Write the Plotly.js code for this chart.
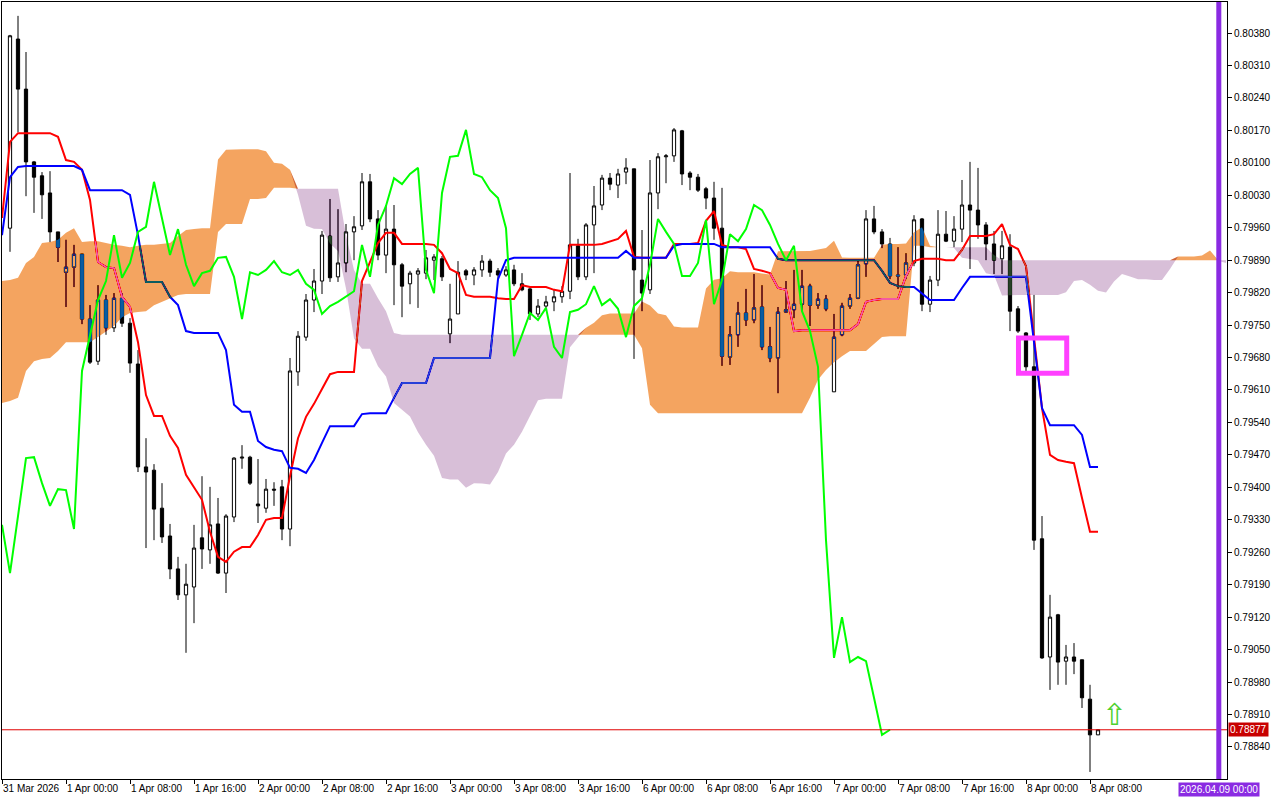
<!DOCTYPE html>
<html><head><meta charset="utf-8">
<script src="https://cdn.plot.ly/plotly-3.0.1.min.js"></script>
<style>html,body{margin:0;padding:0;background:#fff;overflow:hidden}#chart{width:1280px;height:800px}</style>
</head><body><div id="chart"></div>
<script>
// ---- hourly bars, 31 Mar 17:00 .. 8 Apr 09:00 ----
const open = [
0.79959,0.80367,0.80259,0.80102,0.80072,0.80035,0.79951,0.79864,0.79875,0.79903,
0.79763,0.79672,0.79804,0.79744,0.79808,0.79754,0.79666,0.79444,0.79437,0.79355,
0.79295,0.79224,0.79168,0.79185,0.79291,0.79265,0.79321,0.79215,0.79336,0.79463,
0.79465,0.79364,0.79355,0.79396,0.79401,0.79310,0.79649,0.79724,0.79804,0.79845,
0.79942,0.79854,0.79884,0.79951,0.79964,0.80059,0.79979,0.79901,0.79957,0.79880,
0.79839,0.79860,0.79862,0.79890,0.79893,0.79731,0.79774,0.79867,0.79858,0.79869,
0.79888,0.79867,0.79858,0.79869,0.79839,0.79828,0.79774,0.79791,0.79800,0.79811,
0.79823,0.79921,0.79854,0.79966,0.80009,0.80067,0.80052,0.80080,0.80087,0.79847,
0.79826,0.80035,0.80113,0.80115,0.80169,0.80078,0.80069,0.80044,0.80024,0.79959,
0.79681,0.79729,0.79776,0.79761,0.79789,0.79703,0.79679,0.79778,0.79783,0.79795,
0.79834,0.79793,0.79806,0.79606,0.79729,0.79791,0.79808,0.79882,0.79979,0.79951,
0.79925,0.79858,0.79858,0.79884,0.79979,0.79795,0.79847,0.79946,0.79931,0.79957,
0.80009,0.79998,0.79966,0.79925,0.79893,0.79918,0.79785,0.79733,0.79660,0.79289,
0.79034,0.79125,0.79025,0.79034,0.79028,0.78943,0.78866];
const high = [
0.80376,0.80417,0.80339,0.80104,0.80080,0.80082,0.79951,0.79934,0.79923,0.79903,
0.79793,0.79836,0.79815,0.79819,0.79819,0.79765,0.79696,0.79506,0.79450,0.79409,
0.79321,0.79250,0.79235,0.79319,0.79424,0.79401,0.79377,0.79342,0.79465,0.79491,
0.79468,0.79461,0.79418,0.79411,0.79416,0.79679,0.79737,0.79817,0.79871,0.79953,
0.80022,0.80000,0.79968,0.79985,0.80078,0.80076,0.79998,0.80009,0.80009,0.79884,
0.79867,0.79873,0.79912,0.79903,0.79899,0.79839,0.79888,0.79871,0.79875,0.79901,
0.79893,0.79873,0.79877,0.79880,0.79862,0.79834,0.79806,0.79813,0.79828,0.79834,
0.80078,0.79936,0.79970,0.80050,0.80074,0.80078,0.80087,0.80110,0.80087,0.79955,
0.80106,0.80121,0.80119,0.80175,0.80171,0.80082,0.80076,0.80048,0.80059,0.80046,
0.79748,0.79800,0.79828,0.79860,0.79836,0.79746,0.79789,0.79845,0.79869,0.79869,
0.79839,0.79819,0.79815,0.79774,0.79798,0.79817,0.79888,0.79998,0.80007,0.79957,
0.79938,0.79918,0.79905,0.79987,0.79981,0.79856,0.79998,0.79996,0.79985,0.80063,
0.80102,0.80089,0.79972,0.79953,0.79953,0.79946,0.79791,0.79735,0.79815,0.79338,
0.79168,0.79127,0.79060,0.79064,0.79028,0.78974,0.78877];
const low = [
0.79908,0.80166,0.80028,0.79992,0.79979,0.79929,0.79886,0.79789,0.79832,0.79752,
0.79666,0.79664,0.79729,0.79735,0.79746,0.79647,0.79433,0.79269,0.79286,0.79280,
0.79202,0.79157,0.79043,0.79107,0.79224,0.79235,0.79213,0.79172,0.79325,0.79440,
0.79405,0.79323,0.79345,0.79360,0.79286,0.79273,0.79619,0.79716,0.79778,0.79817,
0.79843,0.79843,0.79864,0.79890,0.79955,0.79972,0.79890,0.79862,0.79793,0.79767,
0.79795,0.79787,0.79849,0.79847,0.79845,0.79711,0.79774,0.79847,0.79836,0.79854,
0.79854,0.79849,0.79854,0.79834,0.79823,0.79761,0.79767,0.79785,0.79780,0.79798,
0.79806,0.79847,0.79847,0.79862,0.79998,0.80041,0.80024,0.80054,0.79677,0.79780,
0.79817,0.80000,0.80056,0.80102,0.80052,0.80041,0.80037,0.80000,0.79934,0.79662,
0.79664,0.79703,0.79748,0.79754,0.79696,0.79670,0.79603,0.79776,0.79765,0.79780,
0.79748,0.79785,0.79780,0.79606,0.79726,0.79785,0.79806,0.79854,0.79946,0.79916,
0.79849,0.79828,0.79849,0.79877,0.79780,0.79778,0.79834,0.79929,0.79918,0.79929,
0.79871,0.79936,0.79890,0.79860,0.79860,0.79737,0.79733,0.79649,0.79265,0.79030,
0.78963,0.78974,0.78974,0.78997,0.78924,0.78786,0.78866];
const close = [
0.80374,0.80259,0.80102,0.80069,0.80031,0.79951,0.79918,0.79875,0.79903,0.79763,
0.79670,0.79804,0.79744,0.79808,0.79754,0.79668,0.79444,0.79433,0.79353,0.79293,
0.79224,0.79168,0.79191,0.79269,0.79267,0.79319,0.79215,0.79338,0.79463,0.79465,
0.79409,0.79360,0.79396,0.79394,0.79310,0.79651,0.79726,0.79804,0.79845,0.79944,
0.79852,0.79884,0.79951,0.79962,0.80059,0.79979,0.79901,0.79957,0.79880,0.79834,
0.79862,0.79867,0.79895,0.79897,0.79854,0.79763,0.79864,0.79858,0.79869,0.79888,
0.79864,0.79858,0.79869,0.79839,0.79826,0.79774,0.79791,0.79800,0.79811,0.79823,
0.79923,0.79854,0.79966,0.80007,0.80067,0.80054,0.80076,0.80089,0.79869,0.79819,
0.80035,0.80113,0.80115,0.80171,0.80076,0.80069,0.80041,0.80024,0.79959,0.79683,
0.79729,0.79776,0.79761,0.79787,0.79703,0.79679,0.79778,0.79783,0.79795,0.79834,
0.79793,0.79806,0.79785,0.79724,0.79791,0.79808,0.79880,0.79979,0.79951,0.79925,
0.79856,0.79856,0.79884,0.79977,0.79795,0.79847,0.79946,0.79931,0.79957,0.80009,
0.79998,0.79966,0.79925,0.79890,0.79921,0.79780,0.79737,0.79660,0.79286,0.79032,
0.79120,0.79023,0.79034,0.79025,0.78946,0.78866,0.78877];

// ---- Ichimoku lines, bar -1 .. 136 ----
const tenkan = [0.79981,
0.80145,0.80164,0.80164,0.80164,0.80164,0.80164,0.80156,0.80106,0.80102,0.80085,
0.80020,0.79886,0.79875,0.79873,0.79811,0.79789,0.79713,0.79599,0.79554,0.79554,
0.79511,0.79485,0.79427,0.79401,0.79373,0.79304,0.79250,0.79239,0.79261,0.79271,
0.79271,0.79297,0.79330,0.79334,0.79334,0.79424,0.79506,0.79552,0.79580,0.79612,
0.79644,0.79649,0.79649,0.79649,0.79845,0.79886,0.79927,0.79949,0.79949,0.79925,
0.79925,0.79925,0.79925,0.79923,0.79905,0.79871,0.79862,0.79815,0.79811,0.79811,
0.79811,0.79808,0.79806,0.79806,0.79836,0.79832,0.79832,0.79832,0.79826,0.79823,
0.79923,0.79923,0.79923,0.79923,0.79925,0.79931,0.79936,0.79953,0.79897,0.79895,
0.79895,0.79895,0.79895,0.79925,0.79925,0.79925,0.79927,0.79975,0.79996,0.79923,
0.79918,0.79918,0.79914,0.79871,0.79867,0.79862,0.79830,0.79826,0.79737,0.79739,
0.79739,0.79739,0.79739,0.79739,0.79739,0.79739,0.79752,0.79800,0.79804,0.79806,
0.79806,0.79806,0.79856,0.79888,0.79893,0.79893,0.79893,0.79890,0.79890,0.79912,
0.79942,0.79942,0.79942,0.79946,0.79968,0.79923,0.79914,0.79877,0.79722,0.79571,
0.79470,0.79459,0.79455,0.79452,0.79377,0.79304,0.79304];
const kijun = [0.79944,
0.80069,0.80091,0.80093,0.80093,0.80093,0.80093,0.80093,0.80093,0.80093,0.80085,
0.80041,0.80041,0.80041,0.80041,0.80041,0.80031,0.79944,0.79843,0.79843,0.79843,
0.79811,0.79793,0.79737,0.79733,0.79733,0.79733,0.79733,0.79696,0.79578,0.79563,
0.79563,0.79500,0.79487,0.79481,0.79478,0.79442,0.79440,0.79431,0.79459,0.79496,
0.79532,0.79532,0.79532,0.79532,0.79558,0.79560,0.79560,0.79560,0.79593,0.79625,
0.79625,0.79625,0.79625,0.79679,0.79679,0.79679,0.79679,0.79679,0.79679,0.79679,
0.79679,0.79849,0.79890,0.79895,0.79895,0.79895,0.79895,0.79895,0.79895,0.79895,
0.79895,0.79895,0.79895,0.79895,0.79895,0.79895,0.79895,0.79910,0.79895,0.79895,
0.79895,0.79895,0.79895,0.79921,0.79925,0.79925,0.79925,0.79925,0.79925,0.79918,
0.79918,0.79918,0.79918,0.79918,0.79918,0.79918,0.79893,0.79890,0.79890,0.79890,
0.79890,0.79890,0.79890,0.79890,0.79890,0.79890,0.79890,0.79890,0.79890,0.79867,
0.79841,0.79834,0.79832,0.79832,0.79817,0.79804,0.79804,0.79804,0.79804,0.79830,
0.79854,0.79854,0.79854,0.79854,0.79854,0.79854,0.79854,0.79854,0.79713,0.79571,
0.79534,0.79534,0.79534,0.79534,0.79513,0.79444,0.79444];

// ---- Senkou spans (already shifted forward), bar -1 .. 152 ----
const senkouA = [0.79845,
0.79847,0.79852,0.79884,0.79897,0.79927,0.79929,0.79934,0.79949,0.79959,0.79929,
0.79931,0.79931,0.79927,0.79923,0.79921,0.79918,0.79921,0.79923,0.79923,0.79925,
0.79927,0.79942,0.79955,0.79957,0.79959,0.79959,0.80107,0.80128,0.80129,0.80129,
0.80129,0.80129,0.80125,0.80100,0.80098,0.80085,0.80031,0.79964,0.79958,0.79957,
0.79926,0.79910,0.79829,0.79721,0.79699,0.79699,0.79661,0.79639,0.79582,0.79567,
0.79553,0.79519,0.79492,0.79468,0.79420,0.79417,0.79417,0.79399,0.79409,0.79408,
0.79406,0.79433,0.79473,0.79492,0.79520,0.79554,0.79588,0.79591,0.79591,0.79591,
0.79702,0.79723,0.79744,0.79755,0.79771,0.79775,0.79775,0.79775,0.79775,0.79801,
0.79792,0.79775,0.79771,0.79747,0.79745,0.79745,0.79745,0.79829,0.79848,0.79851,
0.79866,0.79864,0.79864,0.79864,0.79861,0.79859,0.79909,0.79909,0.79909,0.79909,
0.79910,0.79913,0.79916,0.79932,0.79896,0.79895,0.79895,0.79895,0.79895,0.79923,
0.79925,0.79925,0.79926,0.79950,0.79961,0.79921,0.79918,0.79918,0.79916,0.79895,
0.79893,0.79890,0.79862,0.79858,0.79814,0.79815,0.79815,0.79815,0.79815,0.79815,
0.79815,0.79815,0.79821,0.79845,0.79847,0.79837,0.79824,0.79820,0.79844,0.79860,
0.79855,0.79849,0.79849,0.79847,0.79847,0.79871,0.79898,0.79898,0.79898,0.79900,
0.79911,0.79889,0.79884];
const senkouB = [0.79582,
0.79586,0.79593,0.79651,0.79672,0.79677,0.79679,0.79694,0.79713,0.79713,0.79713,
0.79713,0.79724,0.79737,0.79748,0.79767,0.79776,0.79778,0.79780,0.79793,0.79800,
0.79808,0.79815,0.79817,0.79817,0.79817,0.79817,0.79951,0.79968,0.79968,0.79968,
0.80022,0.80022,0.80024,0.80046,0.80046,0.80046,0.80044,0.80044,0.80044,0.80044,
0.80044,0.80044,0.79944,0.79869,0.79839,0.79839,0.79808,0.79780,0.79733,0.79729,
0.79729,0.79729,0.79729,0.79729,0.79729,0.79729,0.79729,0.79729,0.79729,0.79729,
0.79729,0.79729,0.79729,0.79729,0.79729,0.79729,0.79729,0.79729,0.79729,0.79729,
0.79729,0.79729,0.79729,0.79729,0.79729,0.79729,0.79729,0.79729,0.79729,0.79700,
0.79578,0.79560,0.79560,0.79560,0.79560,0.79560,0.79560,0.79560,0.79560,0.79560,
0.79560,0.79560,0.79560,0.79560,0.79560,0.79560,0.79560,0.79560,0.79560,0.79560,
0.79593,0.79632,0.79653,0.79670,0.79683,0.79694,0.79694,0.79694,0.79709,0.79724,
0.79726,0.79726,0.79726,0.79921,0.79921,0.79918,0.79918,0.79918,0.79918,0.79918,
0.79918,0.79918,0.79918,0.79901,0.79890,0.79890,0.79890,0.79890,0.79890,0.79890,
0.79890,0.79890,0.79890,0.79890,0.79890,0.79890,0.79890,0.79890,0.79890,0.79890,
0.79890,0.79890,0.79890,0.79890,0.79890,0.79890,0.79890,0.79890,0.79890,0.79890,
0.79890,0.79890,0.79890];

const xTickLabels = ["31 Mar 2026","1 Apr 00:00","1 Apr 08:00","1 Apr 16:00","2 Apr 00:00","2 Apr 08:00",
"2 Apr 16:00","3 Apr 00:00","3 Apr 08:00","3 Apr 16:00","6 Apr 00:00","6 Apr 08:00","6 Apr 16:00",
"7 Apr 00:00","7 Apr 08:00","7 Apr 16:00","8 Apr 00:00","8 Apr 08:00"];
const yTickValues = [0.78840,0.78910,0.78980,0.79050,0.79120,0.79190,0.79260,0.79330,0.79400,0.79470,
0.79540,0.79610,0.79680,0.79750,0.79820,0.79890,0.79960,0.80030,0.80100,0.80170,0.80240,0.80310,0.80380];
const lastPrice = 0.78877;
const lastPriceText = "0.78877";
const markerDateText = "2026.04.09 00:00";

// ---- view window ----
const xRange = [-1, 152.125];
const yRange = [0.787708, 0.804469];

// ---- derived positions ----
const bars = open.map((_, i) => i);
const lineBars = tenkan.map((_, i) => i - 1);
const cloudBars = senkouA.map((_, i) => i - 1);
const cloudTop = senkouA.map((a, i) => Math.max(a, senkouB[i]));
const chikouX = [], chikouY = [];
close.forEach((c, i) => { if (i >= 25) { chikouX.push(i - 26); chikouY.push(c); } });
const xTickPos = xTickLabels.map((_, i) => -1 + 8 * i);

const noHover = {hoverinfo: 'skip'};
const clear = {width: 0, color: 'rgba(0,0,0,0)'};
const data = [
  // white backdrop inside the plot group (needed for the cloud's blend mode)
  {type: 'bar', x: [(xRange[0] + xRange[1]) / 2], y: [yRange[1] - yRange[0]], base: [yRange[0]],
   width: [xRange[1] - xRange[0]], marker: {color: '#ffffff', line: {width: 0}}, hoverinfo: 'skip'},
  {type: 'candlestick', x: bars, open: open, high: high, low: low, close: close,
   increasing: {line: {color: '#000', width: 1}, fillcolor: '#ffffff'},
   decreasing: {line: {color: '#000', width: 1}, fillcolor: '#000000'},
   whiskerwidth: 0, hoverinfo: 'skip'},
  Object.assign({type: 'scatter', mode: 'lines', x: lineBars, y: tenkan, line: {color: '#ff0000', width: 2}}, noHover),
  Object.assign({type: 'scatter', mode: 'lines', x: lineBars, y: kijun, line: {color: '#0000ff', width: 2}}, noHover),
  // bullish cloud (span A above span B)
  Object.assign({type: 'scatter', mode: 'lines', x: cloudBars, y: senkouB, line: clear}, noHover),
  Object.assign({type: 'scatter', mode: 'lines', x: cloudBars, y: cloudTop, fill: 'tonexty', fillcolor: 'rgb(11,91,159)', line: clear}, noHover),
  // bearish cloud (span B above span A)
  Object.assign({type: 'scatter', mode: 'lines', x: cloudBars, y: senkouA, line: clear}, noHover),
  Object.assign({type: 'scatter', mode: 'lines', x: cloudBars, y: cloudTop, fill: 'tonexty', fillcolor: 'rgb(39,64,39)', line: clear}, noHover),
  Object.assign({type: 'scatter', mode: 'lines', x: chikouX, y: chikouY, line: {color: '#00ff00', width: 2}}, noHover)
];

const layout = {
  width: 1280, height: 800,
  margin: {l: 2, r: 53, t: 2, b: 21, pad: 0},
  paper_bgcolor: '#ffffff', plot_bgcolor: '#ffffff',
  showlegend: false,
  boxgap: 0.42,
  font: {family: 'Liberation Sans, Arial, sans-serif', size: 10, color: '#000'},
  xaxis: {type: 'linear', range: xRange, tickmode: 'array', tickvals: xTickPos, ticktext: xTickLabels,
          ticks: 'outside', ticklen: 4, tickcolor: '#000', showline: true, linecolor: '#000', linewidth: 1,
          mirror: true, showgrid: false, zeroline: false, ticklabelposition: 'outside right',
          rangeslider: {visible: false}, fixedrange: true, tickfont: {size: 10}},
  yaxis: {side: 'right', range: yRange, tickmode: 'array', tickvals: yTickValues,
          ticktext: yTickValues.map(v => v.toFixed(5)), ticks: 'outside', ticklen: 4, tickcolor: '#000',
          showline: true, linecolor: '#000', linewidth: 1, mirror: true, showgrid: false, zeroline: false,
          fixedrange: true, tickfont: {size: 10}},
  shapes: [
    {type: 'line', xref: 'paper', x0: 0, x1: 1, yref: 'y', y0: lastPrice, y1: lastPrice, line: {color: '#e00000', width: 1}},
    {type: 'rect', xref: 'x', x0: 126.06, x1: 132.09, yref: 'y', y0: 0.79646, y1: 0.79722, line: {color: '#ff40ff', width: 5}},
    {type: 'line', xref: 'x', x0: 151.1, x1: 151.1, yref: 'paper', y0: 0, y1: 1, line: {color: '#8a2be2', width: 5}}
  ],
  annotations: [
    {xref: 'paper', x: 1, xanchor: 'left', xshift: 1, yref: 'y', y: lastPrice, yanchor: 'middle',
     text: lastPriceText, showarrow: false, bgcolor: '#c80000', borderpad: 1, font: {color: '#ffffff', size: 10}},
    {xref: 'x', x: 151.1, xanchor: 'center', yref: 'paper', y: 0, yanchor: 'top', yshift: -3,
     text: markerDateText, showarrow: false, bgcolor: '#8a2be2', borderpad: 1, font: {color: '#ffffff', size: 10}},
    {xref: 'x', x: 138.1, xanchor: 'center', yref: 'y', y: 0.78909, yanchor: 'middle',
     text: '\u21E7', showarrow: false, font: {family: 'DejaVu Sans', size: 30, color: '#4fd02f'}}
  ]
};

Plotly.newPlot('chart', data, layout, {staticPlot: true, displayModeBar: false}).then(gd => {
  gd.querySelectorAll('.scatterlayer .fills path').forEach(p => { p.style.mixBlendMode = 'difference'; });
});
</script>
</body></html>
